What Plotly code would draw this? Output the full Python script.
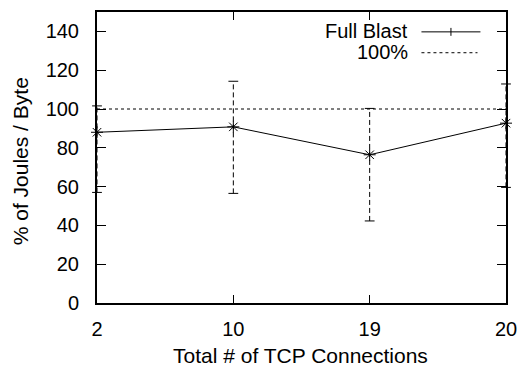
import plotly.graph_objects as go

# ---- data ----
x_labels = ["2", "10", "19", "20"]
values = [88.0, 90.8, 76.4, 92.7]
err_high = [101.6, 114.3, 100.3, 112.9]
err_low = [57.0, 56.5, 42.3, 59.6]
reference = [100, 100, 100, 100]
y_ticks = [0, 20, 40, 60, 80, 100, 120, 140]

FONT = "Liberation Sans, Arial, sans-serif"
FS = 21     # titles
FL = 20     # legend
FT = 20     # tick labels

fig = go.Figure()

# 100% reference line
fig.add_trace(go.Scatter(
    x=x_labels, y=reference, mode="lines",
    line=dict(color="black", width=1, dash="3px,3px"),
    hoverinfo="skip", showlegend=False, cliponaxis=False))

# dashed error bars (vertical part)
ex, ey = [], []
for xl, lo, hi in zip(x_labels, err_low, err_high):
    ex += [xl, xl, None]
    ey += [lo, hi, None]
fig.add_trace(go.Scatter(
    x=ex, y=ey, mode="lines",
    line=dict(color="black", width=1, dash="5px,3px"),
    hoverinfo="skip", showlegend=False, cliponaxis=True))

# error bar caps
fig.add_trace(go.Scatter(
    x=x_labels + x_labels, y=err_low + err_high, mode="markers",
    marker=dict(symbol="line-ew-open", size=7, color="black",
                line=dict(color="black", width=1)),
    hoverinfo="skip", showlegend=False, cliponaxis=False))

# main series
fig.add_trace(go.Scatter(
    x=x_labels, y=values, mode="lines+markers",
    line=dict(color="black", width=1),
    marker=dict(symbol="asterisk-open", size=10, color="black",
                line=dict(color="black", width=1)),
    showlegend=False, cliponaxis=False))

# ---- legend drawn gnuplot-style (text right, sample left) ----
L, R, T, B = 97, 513, 10, 303
def px(x):
    return (x - L) / (R - L)
def py(y):
    return (B - y) / (B - T)

shapes = [
    dict(type="line", xref="paper", yref="paper",
         x0=px(427), x1=px(487), y0=py(30), y1=py(30),
         line=dict(color="black", width=1)),
    dict(type="line", xref="paper", yref="paper",
         x0=px(457), x1=px(457), y0=py(26), y1=py(34),
         line=dict(color="black", width=1)),
    dict(type="line", xref="paper", yref="paper",
         x0=px(427), x1=px(484), y0=py(51), y1=py(51),
         line=dict(color="black", width=1, dash="3px,3px")),
]
annotations = [
    dict(text="Full Blast", xref="paper", yref="paper", x=px(415), y=py(29),
         xanchor="right", yanchor="middle", showarrow=False, height=19,
         font=dict(family=FONT, size=FL, color="black")),
    dict(text="100%", xref="paper", yref="paper", x=px(415), y=py(50),
         xanchor="right", yanchor="middle", showarrow=False, height=19,
         font=dict(family=FONT, size=FL, color="black")),
    dict(text="% of Joules / Byte", xref="paper", yref="paper",
         x=(20 - L) / (R - L), y=py(160), textangle=-90,
         xanchor="center", yanchor="middle", showarrow=False,
         font=dict(family=FONT, size=FS, color="black")),
    dict(text="Total # of TCP Connections", xref="paper", yref="paper",
         x=px(304), y=py(356),
         xanchor="center", yanchor="middle", showarrow=False,
         font=dict(family=FONT, size=FS, color="black")),
]

fig.update_layout(
    width=527, height=371,
    margin=dict(l=L, r=527 - R, t=T, b=371 - B),
    plot_bgcolor="white", paper_bgcolor="white",
    font=dict(family=FONT, size=FT, color="black"),
    shapes=shapes, annotations=annotations,
    showlegend=False,
)
fig.update_xaxes(
    type="category", range=[0, 3],
    showline=True, linecolor="black", linewidth=2, mirror="ticks",
    ticks="inside", ticklen=8, tickwidth=1, tickcolor="black",
    showgrid=False, zeroline=False, ticklabelstandoff=7,
    tickfont=dict(family=FONT, size=FT),
)
fig.update_yaxes(
    range=[0, 150], tickvals=y_ticks,
    showline=True, linecolor="black", linewidth=2, mirror="ticks",
    ticks="inside", ticklen=9, tickwidth=1, tickcolor="black",
    showgrid=False, zeroline=False, ticklabelstandoff=12,
    tickfont=dict(family=FONT, size=FT),
)

fig.write_html("out.html")
